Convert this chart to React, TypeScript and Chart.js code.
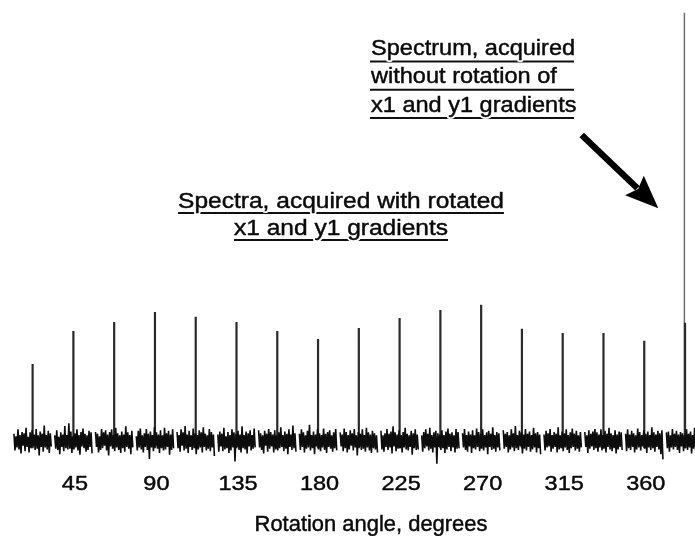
import { useEffect, useRef } from "react";
import { Chart, registerables } from "chart.js";

Chart.register(...registerables);

// Rotation angle (degrees) at which each rotated-gradient spectrum was acquired
const SPIKE_ANGLES = [
  22.5, 45, 67.5, 90, 112.5, 135, 157.5, 180, 202.5, 225, 247.5, 270, 292.5, 315,
  337.5, 360, 382.5,
];

// Peak intensity of each rotated-gradient spectrum (relative units)
const SPIKE_HEIGHTS = [
  18.0, 25.7, 27.8, 30.1, 29.0, 27.8, 25.7, 23.8, 26.4, 28.7, 30.6, 31.8, 26.2, 25.2,
  25.2, 23.4, 27.6,
];

// Spectrum without gradient rotation
const REFERENCE_ANGLE = 382.5;
const REFERENCE_HEIGHT = 100;

// Baseline noise of each spectrum, sampled across its 22.5-degree window
const NOISE = [
  [1.7,-2.2,1.1,-1.5,2.7,-2.0,1.4,-2.9,2.1,-1.1,1.8,-2.4,3.1,-1.4,1.0,-2.7,2.0,-1.7,2.5,-1.3,1.5,-2.1,2.8,-1.8,1.3,-3.4,2.2,-1.4,1.7,-2.5,3.6,-1.5,1.4,-2.0,2.4,-2.8,1.8,-1.3],
  [1.3,-1.8,2.5,-2.1,1.0,-3.1,2.0,-1.4,1.5,-2.4,3.5,-1.7,1.4,-2.0,4.1,-1.8,2.2,-2.8,1.1,-2.0,1.8,-1.5,2.7,-2.2,1.4,-3.2,2.1,-1.3,2.9,-1.7,1.7,-2.5,1.3,-2.1,2.4,-1.4,2.0,-2.9],
  [2.1,-1.4,1.7,-2.7,1.1,-2.1,2.8,-1.7,2.0,-1.1,2.5,-2.2,1.5,-3.4,2.1,-1.3,2.7,-1.8,1.4,-2.4,3.1,-1.5,1.8,-2.1,1.3,-2.8,2.2,-1.7,1.5,-2.5,3.4,-1.4,2.0,-1.8,1.4,-3.1,2.4,-1.5],
  [1.1,-2.2,2.4,-1.5,2.9,-2.0,1.3,-2.7,1.8,-1.4,2.8,-2.1,1.7,-4.2,2.2,-1.5,1.4,-2.4,3.2,-1.3,2.0,-1.8,1.5,-2.8,2.5,-1.7,1.3,-2.2,3.1,-2.0,1.8,-1.4,2.4,-3.2,1.5,-2.1,2.7,-1.7],
  [2.1,-1.7,1.4,-2.5,2.7,-1.1,2.0,-2.2,3.5,-1.8,1.5,-2.8,2.4,-1.4,1.3,-2.1,2.9,-1.7,1.8,-3.1,1.4,-2.0,2.5,-1.5,2.0,-2.7,3.2,-1.4,1.7,-2.2,1.3,-1.8,2.8,-2.4,2.1,-1.5,1.5,-3.5],
  [1.5,-2.5,2.2,-1.3,1.7,-2.4,3.1,-2.0,1.1,-1.7,2.1,-2.8,1.4,-2.2,2.7,-1.5,2.0,-4.8,1.7,-1.4,2.4,-2.1,1.5,-2.7,3.4,-1.7,1.4,-2.0,2.2,-2.9,1.8,-1.3,2.5,-2.2,1.4,-1.8,2.9,-1.5],
  [2.5,-1.5,1.8,-2.1,1.3,-2.9,2.4,-1.1,1.7,-2.5,2.8,-1.8,2.1,-1.3,1.5,-2.7,2.5,-2.0,1.3,-2.2,2.0,-1.7,3.2,-1.4,1.4,-2.4,2.2,-1.8,1.7,-3.1,2.7,-1.4,1.5,-2.1,3.6,-1.7,1.8,-2.5],
  [1.7,-2.1,2.7,-1.4,2.0,-2.7,1.3,-1.8,2.4,-1.5,3.8,-2.2,1.4,-1.7,2.2,-3.1,1.5,-1.3,2.7,-2.0,1.8,-2.4,1.4,-1.5,2.9,-2.1,1.7,-2.8,2.1,-1.4,2.5,-1.8,1.3,-2.5,2.0,-1.7,2.8,-2.2],
  [2.0,-1.3,1.5,-2.4,2.9,-1.7,2.1,-2.7,1.4,-2.0,2.5,-1.1,1.8,-2.2,2.8,-1.5,1.3,-3.4,2.1,-1.4,1.7,-2.1,2.7,-1.8,1.4,-2.5,3.1,-1.5,2.0,-2.2,1.5,-2.8,2.4,-1.7,1.8,-2.0,1.3,-2.7],
  [2.4,-2.0,1.3,-2.5,1.8,-1.4,2.8,-2.1,1.7,-1.5,2.2,-2.9,3.4,-1.3,2.0,-2.4,1.5,-1.8,2.5,-1.7,1.4,-2.7,2.1,-1.5,3.1,-2.0,1.7,-2.2,1.3,-1.4,2.4,-3.2,1.8,-1.7,2.7,-2.1,1.5,-2.0],
  [1.3,-2.5,2.1,-1.7,2.7,-1.3,1.7,-2.2,3.1,-1.8,1.4,-2.7,2.0,-1.5,2.4,-5.3,1.8,-1.4,1.5,-2.1,2.5,-1.7,1.4,-2.8,2.2,-2.0,2.9,-1.4,1.7,-2.4,2.0,-1.5,1.3,-2.7,2.8,-1.8,2.1,-1.7],
  [1.8,-1.5,2.8,-2.1,1.4,-2.5,2.2,-1.3,1.5,-2.8,2.5,-1.7,1.3,-2.0,2.9,-1.4,2.1,-2.4,1.7,-1.8,2.7,-2.2,1.4,-1.5,2.0,-3.1,2.4,-1.4,1.7,-2.1,3.2,-1.8,1.4,-2.5,2.1,-1.5,1.8,-2.2],
  [2.5,-1.8,1.7,-1.4,2.1,-2.7,1.3,-2.0,2.7,-1.5,1.8,-2.4,3.5,-1.7,1.4,-2.1,2.4,-1.3,2.0,-2.9,1.5,-1.8,2.8,-2.2,1.7,-1.4,2.2,-2.5,1.4,-2.0,3.1,-1.5,1.8,-2.7,2.1,-1.7,1.5,-3.1],
  [1.5,-2.2,2.4,-1.5,1.8,-1.3,2.8,-2.5,1.4,-1.8,2.1,-1.4,1.7,-2.7,3.2,-2.0,1.3,-1.7,2.2,-2.4,1.8,-1.5,2.7,-2.1,1.4,-2.8,2.0,-1.7,2.9,-1.4,1.7,-2.2,2.4,-1.8,1.3,-2.5,2.1,-1.5],
  [2.1,-1.4,1.3,-2.8,2.5,-1.8,1.7,-1.3,2.2,-2.1,2.8,-1.7,2.0,-2.5,1.5,-1.5,2.7,-2.2,1.4,-1.8,2.4,-2.7,1.7,-1.4,3.1,-2.0,1.8,-2.4,1.4,-1.7,2.5,-2.9,1.5,-2.0,2.2,-1.4,2.0,-2.1],
  [1.7,-2.4,2.7,-1.7,1.5,-2.1,2.4,-1.4,1.8,-2.7,1.3,-2.0,2.9,-1.5,2.1,-2.2,1.4,-1.3,2.5,-1.8,1.7,-2.8,2.2,-1.5,1.4,-2.1,3.2,-1.7,2.0,-2.5,1.5,-1.4,2.4,-2.0,1.8,-3.1,2.5,-4.3],
  [2.0,-1.7,2.2,-2.5,1.3,-1.5,2.8,-2.0,1.7,-1.4,2.4,-2.1,1.5,-2.8,2.1,-1.3,1.8,-2.4,1.4,-1.7,2.7,-2.1,1.7,-1.5,2.2,-2.9,1.4,-1.8,3.1,-2.0,1.8,-1.4,2.4,-2.2,1.5,-1.8,2.1,-2.5],
];

// Axis tick labels (degrees)
const TICK_ANGLES = [45, 90, 135, 180, 225, 270, 315, 360];
const X_TITLE = "Rotation angle, degrees";

const LEFT_NOTE = ["Spectra, acquired with rotated", "x1 and y1 gradients"];
const RIGHT_NOTE = ["Spectrum, acquired", "without rotation of", "x1 and y1 gradients"];

const FONT = '"Liberation Sans", Arial, Helvetica, sans-serif';
const HALF_WINDOW = 10.3; // half width of each spectrum's noise window, degrees

type Pt = { x: number; y: number | null };

function buildNoise(): Pt[] {
  const pts: Pt[] = [];
  SPIKE_ANGLES.forEach((a, k) => {
    const row = NOISE[k];
    const step = (2 * HALF_WINDOW) / (row.length - 1);
    row.forEach((v, i) => pts.push({ x: a - HALF_WINDOW + i * step, y: v }));
    pts.push({ x: a + HALF_WINDOW + 0.5, y: null });
  });
  return pts;
}

function buildSpikes(): Pt[] {
  const pts: Pt[] = [];
  SPIKE_ANGLES.forEach((a, k) => {
    pts.push({ x: a, y: -1.7 }, { x: a, y: SPIKE_HEIGHTS[k] }, { x: a, y: null });
  });
  return pts;
}

function stretchedText(
  ctx: CanvasRenderingContext2D,
  text: string,
  x: number,
  y: number,
  size: number,
  sx: number,
  align: CanvasTextAlign,
  mode: "fill" | "stroke" = "fill"
) {
  ctx.save();
  ctx.font = `${size}px ${FONT}`;
  ctx.textAlign = align;
  ctx.textBaseline = "alphabetic";
  ctx.translate(x, y);
  ctx.scale(sx, 1);
  ctx.lineJoin = "round";
  if (mode === "stroke") {
    ctx.strokeStyle = "#fff";
    ctx.lineWidth = 4;
    ctx.strokeText(text, 0, 0);
  } else {
    ctx.fillStyle = "#0a0a0a";
    ctx.strokeStyle = "#0a0a0a";
    ctx.lineWidth = 0.45;
    ctx.fillText(text, 0, 0);
    ctx.strokeText(text, 0, 0);
  }
  ctx.restore();
}

function textWidth(ctx: CanvasRenderingContext2D, text: string, size: number, sx: number) {
  ctx.save();
  ctx.font = `${size}px ${FONT}`;
  const w = ctx.measureText(text).width * sx;
  ctx.restore();
  return w;
}

type NoteLine = { text: string; x: number; y: number; align: CanvasTextAlign; ux0: number; ux1: number };

function underlinedBlock(ctx: CanvasRenderingContext2D, lines: NoteLine[], size: number, sx: number, gap: number) {
  ctx.save();
  ctx.strokeStyle = "#111";
  ctx.lineWidth = 2;
  lines.forEach((l) => {
    ctx.beginPath();
    ctx.moveTo(l.ux0, l.y + gap);
    ctx.lineTo(l.ux1, l.y + gap);
    ctx.stroke();
  });
  ctx.restore();
  lines.forEach((l) => stretchedText(ctx, l.text, l.x, l.y, size, sx, l.align, "stroke"));
  lines.forEach((l) => stretchedText(ctx, l.text, l.x, l.y, size, sx, l.align, "fill"));
}

const overlay = {
  id: "overlay",
  afterDraw(chart: Chart) {
    const ctx = chart.ctx;
    const xs = chart.scales.x;

    // tick labels and axis title
    TICK_ANGLES.forEach((t) => {
      stretchedText(ctx, String(t), xs.getPixelForValue(t) + 1.5, 490, 21, 1.12, "center");
    });
    stretchedText(ctx, X_TITLE, 371, 531, 21.5, 1.02, "center");

    // left annotation, centred
    const ls = 22.5;
    const lsx = 1.09;
    const lcx = 341;
    underlinedBlock(
      ctx,
      LEFT_NOTE.map((t, i) => {
        const w = textWidth(ctx, t, ls, lsx);
        return { text: t, x: lcx, y: 208 + i * 27, align: "center" as CanvasTextAlign, ux0: lcx - w / 2, ux1: lcx + w / 2 };
      }),
      ls,
      lsx,
      5
    );

    // right annotation, left aligned with equal-length underlines
    underlinedBlock(
      ctx,
      RIGHT_NOTE.map((t, i) => ({
        text: t,
        x: 371,
        y: 55 + i * 28.3,
        align: "left" as CanvasTextAlign,
        ux0: 370,
        ux1: 574,
      })),
      22,
      1.07,
      6.5
    );

    // arrow pointing at the unrotated spectrum
    const x0 = 581.7, y0 = 135;
    const x1 = 658.3, y1 = 208.3;
    const ang = Math.atan2(y1 - y0, x1 - x0);
    const headLen = 33;
    const headHalf = 13.5;
    const bx = x1 - headLen * Math.cos(ang);
    const by = y1 - headLen * Math.sin(ang);
    ctx.save();
    ctx.strokeStyle = "#000";
    ctx.fillStyle = "#000";
    ctx.lineWidth = 6.5;
    ctx.beginPath();
    ctx.moveTo(x0, y0);
    ctx.lineTo(bx + 4 * Math.cos(ang), by + 4 * Math.sin(ang));
    ctx.stroke();
    ctx.beginPath();
    ctx.moveTo(x1, y1);
    ctx.lineTo(bx - headHalf * Math.sin(ang), by + headHalf * Math.cos(ang));
    ctx.lineTo(bx + 5 * Math.cos(ang), by + 5 * Math.sin(ang));
    ctx.lineTo(bx + headHalf * Math.sin(ang), by - headHalf * Math.cos(ang));
    ctx.closePath();
    ctx.fill();
    ctx.restore();
  },
};

export default function App() {
  const ref = useRef<HTMLCanvasElement>(null);

  useEffect(() => {
    if (!ref.current) return;
    const chart = new Chart(ref.current, {
      type: "line",
      data: {
        datasets: [
          {
            label: "Baseline noise",
            data: buildNoise(),
            borderColor: "#0d0d0d",
            borderWidth: 1.6,
            pointRadius: 0,
            tension: 0,
            spanGaps: false,
          },
          {
            label: "Rotated gradients",
            data: buildSpikes(),
            borderColor: "#2a2a2a",
            borderWidth: 2.2,
            pointRadius: 0,
            tension: 0,
            spanGaps: false,
          },
          {
            label: "Without rotation",
            data: [
              { x: REFERENCE_ANGLE - 0.35, y: 0 },
              { x: REFERENCE_ANGLE - 0.35, y: REFERENCE_HEIGHT },
            ],
            borderColor: "#6e6e6e",
            borderWidth: 1.5,
            pointRadius: 0,
            tension: 0,
          },
        ],
      },
      options: {
        responsive: false,
        devicePixelRatio: 1,
        animation: false,
        layout: { padding: 0 },
        plugins: { legend: { display: false }, tooltip: { enabled: false } },
        scales: {
          x: { type: "linear", min: 4.5, max: 388, display: false },
          y: { type: "linear", min: -22.2, max: 103, display: false },
        },
      },
      plugins: [overlay],
    });
    return () => chart.destroy();
  }, []);

  return (
    <div style={{ position: "absolute", left: 0, top: 0, width: 695, height: 536, background: "#fff" }}>
      <canvas ref={ref} width={695} height={536} style={{ display: "block" }} />
    </div>
  );
}
